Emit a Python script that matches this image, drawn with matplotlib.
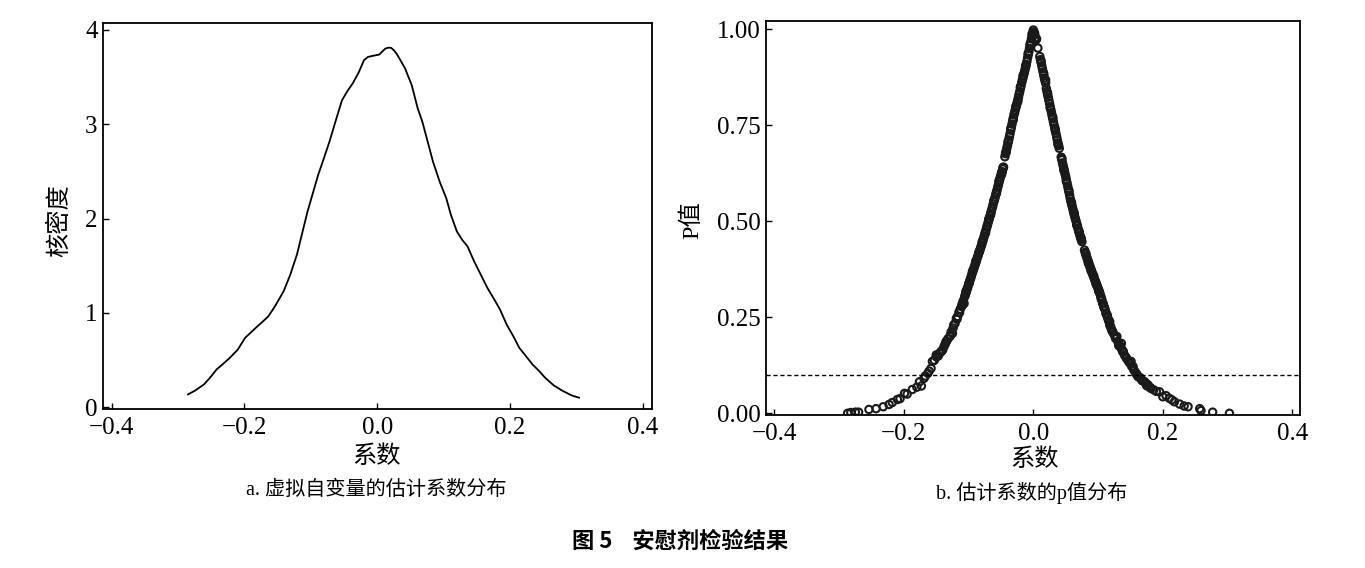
import numpy as np
import matplotlib
matplotlib.use('Agg')
import matplotlib.pyplot as plt

# 左图: 虚拟自变量估计系数的核密度曲线
kde_x = [-0.285, -0.274, -0.261, -0.252, -0.242, -0.232, -0.222, -0.210, -0.199,
         -0.191, -0.183, -0.173, -0.164, -0.154, -0.141, -0.131, -0.121, -0.113,
         -0.105, -0.097, -0.089, -0.080, -0.072, -0.063, -0.053, -0.044, -0.037,
         -0.028, -0.020, -0.014, -0.007, 0.003, 0.007, 0.012, 0.017, 0.021,
         0.025, 0.029, 0.035, 0.042, 0.052, 0.061, 0.068, 0.076, 0.084,
         0.094, 0.104, 0.111, 0.120, 0.128, 0.136, 0.146, 0.156, 0.166,
         0.175, 0.185, 0.195, 0.205, 0.214, 0.224, 0.234, 0.244, 0.253,
         0.266, 0.280, 0.293, 0.304]
kde_y = [0.134, 0.176, 0.240, 0.310, 0.399, 0.459, 0.522, 0.610, 0.734,
         0.787, 0.840, 0.903, 0.963, 1.069, 1.228, 1.404, 1.616, 1.845,
         2.074, 2.268, 2.462, 2.646, 2.815, 3.026, 3.256, 3.362, 3.432,
         3.548, 3.679, 3.714, 3.725, 3.739, 3.767, 3.802, 3.813, 3.810,
         3.785, 3.750, 3.679, 3.591, 3.414, 3.168, 3.026, 2.815, 2.603,
         2.392, 2.215, 2.039, 1.862, 1.774, 1.704, 1.545, 1.404, 1.263,
         1.157, 1.034, 0.875, 0.751, 0.628, 0.540, 0.451, 0.381, 0.310,
         0.229, 0.169, 0.123, 0.099]

# 右图: 估计系数与p值 (左支, 从原图读取)
left_x = [-0.287, -0.282, -0.275, -0.270, -0.254, -0.243, -0.232, -0.223, -0.218,
          -0.210, -0.206, -0.199, -0.195, -0.187, -0.180, -0.176, -0.173, -0.169,
          -0.167, -0.163, -0.161, -0.158, -0.156, -0.153, -0.150, -0.147, -0.145,
          -0.142, -0.140, -0.138, -0.136, -0.134, -0.132, -0.129, -0.127, -0.125,
          -0.123, -0.121, -0.119, -0.117, -0.115, -0.113, -0.111, -0.110, -0.109,
          -0.108, -0.107, -0.106, -0.105, -0.104, -0.103, -0.102, -0.101, -0.100,
          -0.099, -0.098, -0.097, -0.096, -0.095, -0.094, -0.093, -0.092, -0.091,
          -0.090, -0.089, -0.088, -0.087, -0.086, -0.085, -0.084, -0.083, -0.082,
          -0.081, -0.080, -0.079, -0.078, -0.077, -0.076, -0.075, -0.074, -0.073,
          -0.072, -0.071, -0.070, -0.069, -0.068, -0.067, -0.066, -0.065, -0.064,
          -0.063, -0.062, -0.061, -0.060, -0.059, -0.058, -0.057, -0.056, -0.055,
          -0.054, -0.053, -0.052, -0.051, -0.050, -0.049, -0.048, -0.047, -0.046,
          -0.044, -0.043, -0.042, -0.041, -0.040, -0.039, -0.038, -0.037, -0.036,
          -0.035, -0.034, -0.033, -0.032, -0.031, -0.030, -0.029, -0.028, -0.027,
          -0.026, -0.025, -0.024, -0.023, -0.022, -0.021, -0.020, -0.019, -0.018,
          -0.017, -0.016, -0.015, -0.014, -0.013, -0.012, -0.011, -0.010, -0.009,
          -0.008, -0.007, -0.006, -0.005, -0.004, -0.003, -0.002, -0.001, 0.000]
left_p = [0.000, 0.002, 0.003, 0.003, 0.010, 0.012, 0.017, 0.023, 0.028,
          0.036, 0.038, 0.052, 0.050, 0.062, 0.068, 0.082, 0.071, 0.091,
          0.097, 0.104, 0.110, 0.117, 0.135, 0.138, 0.152, 0.149, 0.156,
          0.161, 0.165, 0.174, 0.181, 0.188, 0.194, 0.200, 0.212, 0.208,
          0.230, 0.234, 0.247, 0.252, 0.263, 0.271, 0.278, 0.284, 0.289,
          0.294, 0.286, 0.304, 0.309, 0.314, 0.320, 0.325, 0.330, 0.336,
          0.341, 0.346, 0.351, 0.356, 0.362, 0.367, 0.372, 0.377, 0.382,
          0.387, 0.392, 0.397, 0.403, 0.408, 0.413, 0.418, 0.423, 0.428,
          0.433, 0.438, 0.444, 0.449, 0.455, 0.461, 0.467, 0.472, 0.478,
          0.484, 0.490, 0.496, 0.502, 0.508, 0.514, 0.520, 0.526, 0.532,
          0.538, 0.545, 0.551, 0.557, 0.563, 0.570, 0.576, 0.582, 0.589,
          0.595, 0.602, 0.608, 0.615, 0.621, 0.628, 0.629, 0.636, 0.641,
          0.668, 0.676, 0.683, 0.690, 0.697, 0.705, 0.712, 0.720, 0.728,
          0.737, 0.745, 0.753, 0.761, 0.769, 0.777, 0.783, 0.790, 0.796,
          0.803, 0.809, 0.816, 0.823, 0.831, 0.838, 0.846, 0.853, 0.861,
          0.868, 0.874, 0.881, 0.887, 0.894, 0.901, 0.908, 0.916, 0.925,
          0.933, 0.941, 0.950, 0.958, 0.966, 0.975, 0.983, 0.990, 0.998]
# 左支点带外沿的点
left_x2 = [-0.150, -0.143, -0.135, -0.128, -0.124, -0.118, -0.114, -0.110, -0.104,
           -0.099, -0.094, -0.089, -0.084, -0.079, -0.074, -0.069, -0.066, -0.061,
           -0.057, -0.053, -0.049, -0.047, -0.042, -0.039, -0.035, -0.031, -0.027,
           -0.024, -0.020, -0.016, -0.012, -0.008, -0.005, -0.002]
left_p2 = [0.147, 0.160, 0.186, 0.203, 0.222, 0.245, 0.262, 0.281, 0.318,
           0.339, 0.370, 0.396, 0.420, 0.447, 0.469, 0.505, 0.517, 0.554,
           0.573, 0.606, 0.622, 0.640, 0.680, 0.708, 0.741, 0.765, 0.799,
           0.812, 0.850, 0.879, 0.905, 0.937, 0.962, 0.988]

# 右图: 估计系数与p值 (右支, 从原图读取)
right_x = [0.001, 0.002, 0.003, 0.004, 0.007, 0.010, 0.011, 0.012, 0.013,
           0.014, 0.015, 0.016, 0.017, 0.018, 0.019, 0.020, 0.021, 0.022,
           0.023, 0.024, 0.025, 0.026, 0.027, 0.028, 0.029, 0.030, 0.031,
           0.032, 0.033, 0.034, 0.035, 0.036, 0.037, 0.038, 0.039, 0.040,
           0.043, 0.044, 0.045, 0.046, 0.047, 0.048, 0.049, 0.050, 0.051,
           0.052, 0.053, 0.054, 0.055, 0.056, 0.057, 0.058, 0.059, 0.060,
           0.061, 0.062, 0.063, 0.064, 0.065, 0.066, 0.067, 0.068, 0.069,
           0.070, 0.071, 0.072, 0.073, 0.074, 0.075, 0.079, 0.080, 0.081,
           0.082, 0.083, 0.084, 0.085, 0.086, 0.087, 0.088, 0.089, 0.090,
           0.091, 0.092, 0.093, 0.094, 0.095, 0.096, 0.097, 0.098, 0.099,
           0.100, 0.101, 0.102, 0.103, 0.104, 0.105, 0.106, 0.107, 0.108,
           0.109, 0.110, 0.111, 0.112, 0.113, 0.114, 0.115, 0.116, 0.117,
           0.118, 0.119, 0.120, 0.121, 0.123, 0.125, 0.127, 0.129, 0.131,
           0.133, 0.135, 0.136, 0.137, 0.139, 0.141, 0.144, 0.146, 0.148,
           0.151, 0.152, 0.154, 0.156, 0.159, 0.160, 0.162, 0.166, 0.168,
           0.172, 0.174, 0.177, 0.179, 0.182, 0.186, 0.190, 0.195, 0.200,
           0.205, 0.210, 0.214, 0.218, 0.226, 0.233, 0.239, 0.257, 0.259,
           0.277, 0.303]
right_p = [0.993, 0.985, 0.978, 0.972, 0.951, 0.929, 0.921, 0.913, 0.905,
           0.897, 0.889, 0.881, 0.873, 0.866, 0.860, 0.846, 0.838, 0.830,
           0.823, 0.815, 0.807, 0.799, 0.791, 0.783, 0.775, 0.767, 0.759,
           0.751, 0.743, 0.735, 0.728, 0.720, 0.712, 0.704, 0.697, 0.690,
           0.667, 0.660, 0.652, 0.645, 0.638, 0.630, 0.623, 0.616, 0.608,
           0.600, 0.592, 0.584, 0.576, 0.568, 0.559, 0.552, 0.545, 0.539,
           0.532, 0.525, 0.518, 0.512, 0.506, 0.500, 0.494, 0.488, 0.481,
           0.475, 0.469, 0.463, 0.458, 0.452, 0.447, 0.425, 0.419, 0.414,
           0.409, 0.404, 0.399, 0.394, 0.389, 0.384, 0.379, 0.375, 0.370,
           0.365, 0.361, 0.356, 0.352, 0.347, 0.343, 0.339, 0.334, 0.330,
           0.325, 0.321, 0.316, 0.311, 0.305, 0.300, 0.295, 0.286, 0.285,
           0.279, 0.274, 0.269, 0.260, 0.259, 0.253, 0.248, 0.243, 0.238,
           0.239, 0.227, 0.222, 0.217, 0.211, 0.204, 0.198, 0.200, 0.185,
           0.179, 0.172, 0.182, 0.165, 0.161, 0.151, 0.143, 0.138, 0.133,
           0.135, 0.122, 0.122, 0.111, 0.104, 0.100, 0.095, 0.091, 0.085,
           0.082, 0.078, 0.074, 0.069, 0.065, 0.061, 0.057, 0.056, 0.043,
           0.046, 0.039, 0.035, 0.030, 0.024, 0.019, 0.017, 0.012, 0.007,
           0.003, 0.000]
# 右支点带外沿的点
right_x2 = [0.002, 0.005, 0.012, 0.016, 0.019, 0.022, 0.026, 0.030, 0.034,
            0.038, 0.044, 0.047, 0.051, 0.055, 0.059, 0.063, 0.067, 0.071,
            0.074, 0.081, 0.085, 0.089, 0.093, 0.097, 0.101, 0.105, 0.109,
            0.114, 0.118, 0.122, 0.127, 0.132, 0.138, 0.143, 0.149, 0.155,
            0.161, 0.164, 0.170, 0.175, 0.181]
right_p2 = [0.989, 0.975, 0.917, 0.885, 0.868, 0.834, 0.795, 0.771, 0.739,
            0.700, 0.664, 0.634, 0.604, 0.580, 0.549, 0.522, 0.490, 0.472,
            0.455, 0.417, 0.391, 0.372, 0.359, 0.336, 0.318, 0.297, 0.276,
            0.256, 0.230, 0.214, 0.195, 0.176, 0.160, 0.146, 0.131, 0.114,
            0.098, 0.094, 0.084, 0.072, 0.066]

p_line = 0.1

serif = ['Liberation Serif', 'Noto Sans CJK SC', 'DejaVu Sans']
cjk = ['Noto Sans CJK SC', 'DejaVu Sans']
plt.rcParams['font.family'] = serif
plt.rcParams['axes.unicode_minus'] = True

fig = plt.figure(figsize=(13.65, 5.68), dpi=100)

ax1 = fig.add_axes([0.0755, 0.2799, 0.4022, 0.6796])
ax2 = fig.add_axes([0.5612, 0.2694, 0.3912, 0.6937])

# 左图
ax1.plot(kde_x, kde_y, color='black', linewidth=1.3)
ax1.set_xlim(-0.413, 0.414)
ax1.set_ylim(-0.021, 4.074)
ax1.set_xticks([-0.4, -0.2, 0.0, 0.2, 0.4])
ax1.set_xticklabels(['−0.4', '−0.2', '0.0', '0.2', '0.4'])
ax1.set_yticks([0, 1, 2, 3, 4])

# 右图
for xs, ps in ((left_x, left_p), (left_x2, left_p2), (right_x, right_p), (right_x2, right_p2)):
    ax2.scatter(xs, ps, s=28, facecolors='none', edgecolors='#1a1a1a', linewidths=1.5)
ax2.axhline(p_line, color='black', linestyle=(0, (3, 2)), linewidth=1.0)
ax2.set_xlim(-0.413, 0.412)
ax2.set_ylim(-0.0044, 1.0216)
ax2.set_xticks([-0.4, -0.2, 0.0, 0.2, 0.4])
ax2.set_xticklabels(['−0.4', '−0.2', '0.0', '0.2', '0.4'])
ax2.set_yticks([0.0, 0.25, 0.5, 0.75, 1.0])
ax2.set_yticklabels(['0.00', '0.25', '0.50', '0.75', '1.00'])

for ax in (ax1, ax2):
    ax.tick_params(direction='in', length=4, width=1.0, labelsize=18)
    ax.tick_params(axis='x', pad=6)
    ax.tick_params(axis='y', pad=4)
    for s in ax.spines.values():
        s.set_linewidth(1.3)

# 轴标签与子图标题
fig.text(0.276, 0.197, '系数', family=cjk, fontsize=17.5, ha='center', va='center')
fig.text(0.276, 0.137, 'a. 虚拟自变量的估计系数分布', family=serif, fontsize=14.5,
         ha='center', va='center')
fig.text(0.043, 0.611, '核密度', family=cjk, fontsize=17.5, ha='center', va='center',
         rotation=90)

fig.text(0.758, 0.192, '系数', family=cjk, fontsize=17.5, ha='center', va='center')
fig.text(0.756, 0.133, 'b. 估计系数的p值分布', family=serif, fontsize=14.5,
         ha='center', va='center')
fig.text(0.507, 0.612, 'P值', family=serif, fontsize=17.5, ha='center', va='center',
         rotation=90)

fig.text(0.498, 0.0475, '图 5    安慰剂检验结果', family=cjk, fontsize=16,
         fontweight='bold', ha='center', va='center')

fig.savefig('out.png', dpi=100)
